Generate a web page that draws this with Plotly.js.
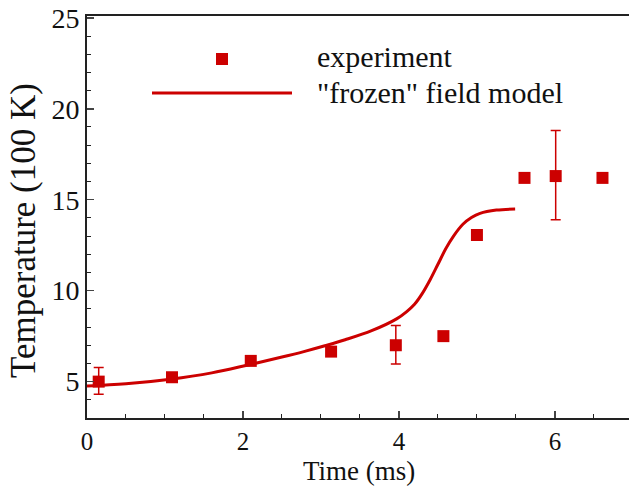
<!DOCTYPE html>
<html><head><meta charset="utf-8">
<script src="https://cdn.plot.ly/plotly-3.0.1.min.js"></script>
<style>html,body{margin:0;padding:0;background:#fff}</style>
</head><body><div id="chart" style="width:629px;height:487px"></div>
<script>
// Experiment data
var expTime = [0.15, 1.09, 2.1, 3.13, 3.96, 4.57, 5.0, 5.61, 6.01, 6.61];
var expTemp = [5.0, 5.24, 6.14, 6.65, 7.0, 7.5, 13.06, 16.2, 16.3, 16.2];
var errPlus = [0.77, 0, 0, 0, 1.08, 0, 0, 0, 2.5, 0];
var errMinus = [0.7, 0, 0, 0, 1.03, 0, 0, 0, 2.4, 0];
// "frozen" field model curve
var modelTime = [0, 0.5, 1.07, 1.6, 2.05, 2.5, 2.78, 3.05, 3.31, 3.65, 3.97, 4.1, 4.2, 4.3, 4.4, 4.5, 4.6, 4.7, 4.82, 4.93, 5.04, 5.25, 5.49];
var modelTemp = [4.76, 4.88, 5.13, 5.48, 5.9, 6.35, 6.65, 6.97, 7.3, 7.8, 8.45, 8.85, 9.25, 9.85, 10.6, 11.45, 12.3, 13.0, 13.65, 14.02, 14.25, 14.43, 14.49];
var xTicks = [0, 2, 4, 6];
var yTicks = [5, 10, 15, 20, 25];
var legendLabels = ['experiment', '"frozen" field model'];
var xTitle = 'Time (ms)';
var yTitle = 'Temperature (100 K)';

var red = '#cc0000';
var font = 'Liberation Serif, Times New Roman, serif';
var W = 542, H = 402, L = 87, B = 418;
function px(x) { return (x - L) / W; }
function py(y) { return (B - y) / H; }

var traces = [
  {x: modelTime, y: modelTemp, mode: 'lines', line: {color: red, width: 3, shape: 'spline', smoothing: 1}, showlegend: false, hoverinfo: 'skip'},
  {x: expTime, y: expTemp, mode: 'markers', marker: {symbol: 'square', size: 12, color: red},
   error_y: {type: 'data', symmetric: false, array: errPlus, arrayminus: errMinus, color: red, thickness: 1.5, width: 5},
   showlegend: false}
];

var layout = {
  width: 629, height: 487,
  margin: {l: 87, r: 0, t: 16, b: 69},
  paper_bgcolor: '#fff', plot_bgcolor: '#fff',
  font: {family: font, color: '#111', size: 27},
  xaxis: {range: [0, 6.95], tickvals: xTicks, ticktext: xTicks.map(String), ticks: 'inside', ticklen: 7, tickwidth: 1.5,
    minor: {dtick: 0.5, tick0: 0, ticks: 'inside', ticklen: 4, tickwidth: 1, tickcolor: '#222'},
    showline: true, linewidth: 2, linecolor: '#222', mirror: true, showgrid: false, zeroline: false,
    tickfont: {size: 25, family: font}},
  yaxis: {range: [3, 25.1], tickvals: yTicks, ticktext: yTicks.map(String), ticks: 'inside', ticklen: 7, tickwidth: 1.5,
    minor: {dtick: 1, tick0: 0, ticks: 'inside', ticklen: 4, tickwidth: 1, tickcolor: '#222'},
    showline: true, linewidth: 2, linecolor: '#222', showgrid: false, zeroline: false,
    tickfont: {size: 28, family: font}},
  shapes: [
    {type: 'rect', xref: 'paper', yref: 'paper', x0: px(216), x1: px(228), y0: py(65), y1: py(53),
     fillcolor: red, line: {width: 0}},
    {type: 'line', xref: 'paper', yref: 'paper', x0: px(152), x1: px(292), y0: py(93), y1: py(93),
     line: {color: red, width: 3}}
  ],
  annotations: [
    {xref: 'paper', yref: 'paper', x: px(315), y: py(56), xanchor: 'left', yanchor: 'middle', showarrow: false,
     text: legendLabels[0], font: {size: 30, family: font, color: '#111'}},
    {xref: 'paper', yref: 'paper', x: px(315), y: py(93), xanchor: 'left', yanchor: 'middle', showarrow: false,
     text: legendLabels[1], font: {size: 30, family: font, color: '#111'}},
    {xref: 'paper', yref: 'paper', x: px(359), y: py(471), xanchor: 'center', yanchor: 'middle', showarrow: false,
     text: xTitle, font: {size: 27, family: font, color: '#111'}},
    {xref: 'paper', yref: 'paper', x: px(24), y: py(231), xanchor: 'center', yanchor: 'middle', showarrow: false,
     textangle: -90, text: yTitle, font: {size: 35, family: font, color: '#111'}}
  ]
};
Plotly.newPlot('chart', traces, layout, {staticPlot: true});
</script></body></html>
